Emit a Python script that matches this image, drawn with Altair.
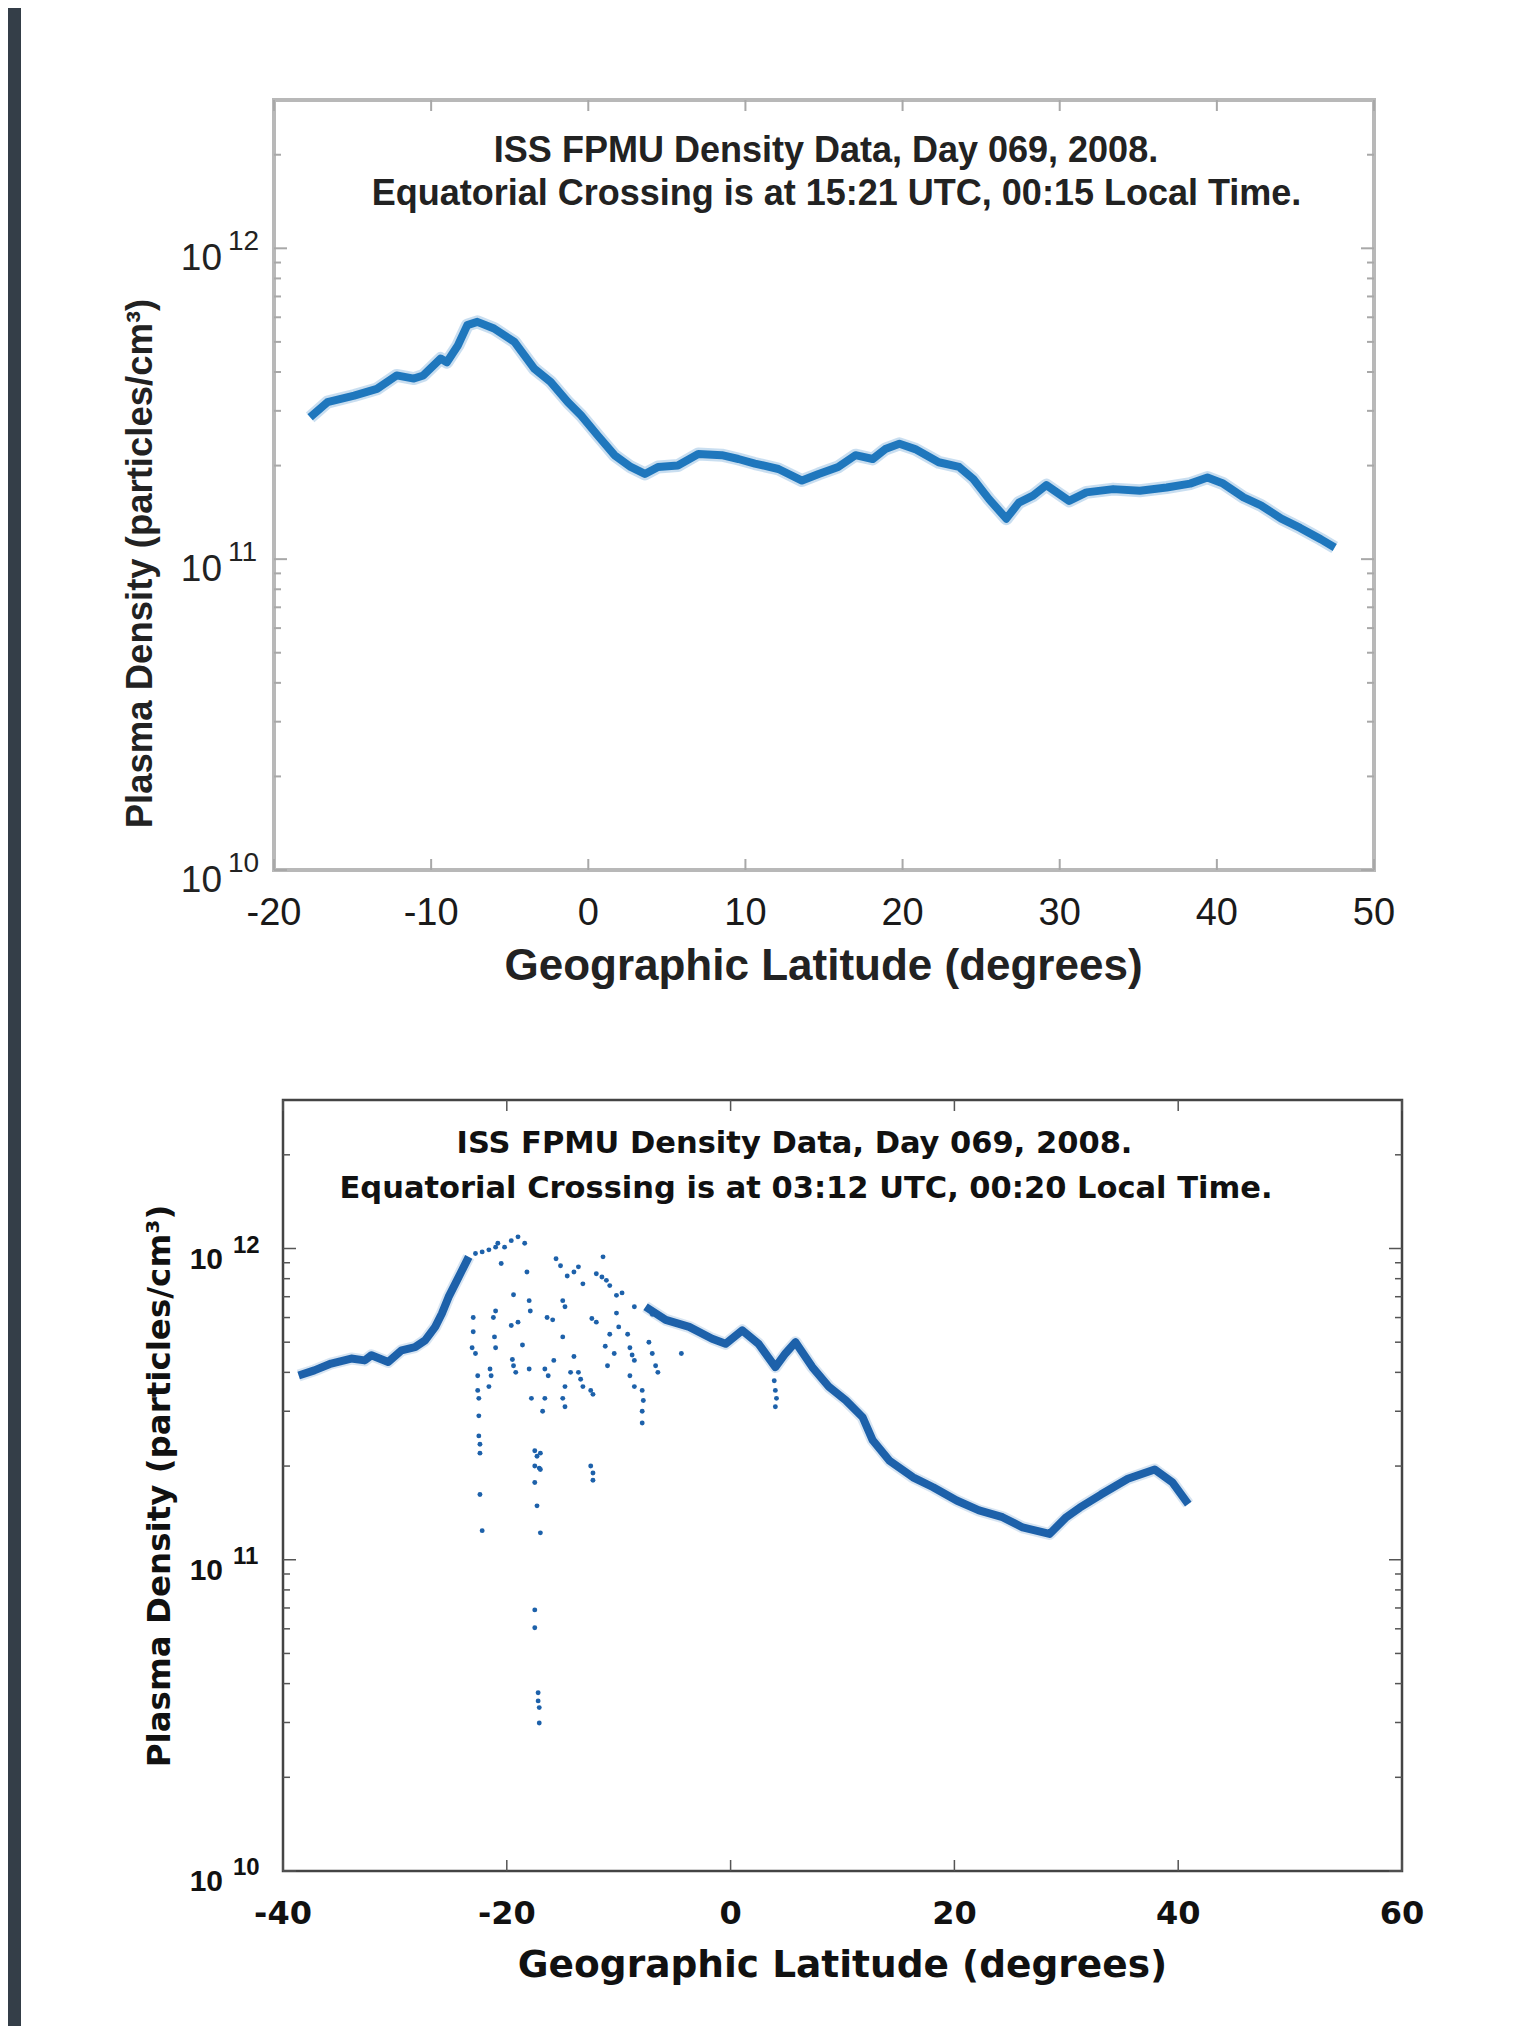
import altair as alt
import pandas as pd

W, H = 1512, 2018

# ---------------- top panel data (Day 069, 15:21 UTC pass) ----------------
top_lat = [-17.7, -16.6, -14.9, -13.45, -12.2, -11.1, -10.5, -9.4, -9.0, -8.3, -7.7, -7.06,
           -6.0, -4.7, -3.44, -2.4, -1.3, -0.46, 0.6, 1.67, 2.7, 3.6, 4.44, 5.7, 7.0, 8.5,
           9.55, 10.6, 12.1, 13.6, 14.66, 15.9, 17.0, 18.1, 18.9, 19.8, 20.8, 22.3, 23.6,
           24.5, 25.5, 26.6, 27.4, 28.3, 29.15, 30.6, 31.7, 33.4, 35.1, 36.8, 38.3, 39.4,
           40.4, 41.7, 42.8, 44.1, 45.3, 46.6, 47.5]
top_den = [2.86e11, 3.2e11, 3.36e11, 3.53e11, 3.9e11, 3.81e11, 3.9e11, 4.42e11, 4.3e11, 4.87e11,
           5.66e11, 5.8e11, 5.52e11, 5.0e11, 4.1e11, 3.72e11, 3.2e11, 2.9e11, 2.5e11, 2.16e11,
           1.98e11, 1.88e11, 1.98e11, 2.0e11, 2.18e11, 2.16e11, 2.1e11, 2.03e11, 1.95e11, 1.79e11,
           1.88e11, 1.98e11, 2.16e11, 2.1e11, 2.26e11, 2.35e11, 2.26e11, 2.05e11, 1.98e11, 1.81e11,
           1.56e11, 1.35e11, 1.52e11, 1.6e11, 1.73e11, 1.54e11, 1.64e11, 1.68e11, 1.66e11, 1.70e11,
           1.75e11, 1.83e11, 1.75e11, 1.58e11, 1.49e11, 1.35e11, 1.26e11, 1.16e11, 1.09e11]
top_xticks = [-20, -10, 0, 10, 20, 30, 40, 50]
top_xlabels = ["-20", "-10", "0", "10", "20", "30", "40", "50"]

# ---------------- bottom panel data (Day 069, 03:12 UTC pass) ----------------
b1_lat = [-38.6, -37.2, -35.7, -33.9, -32.7, -32.1, -30.6, -29.4, -28.2, -27.3, -26.4, -25.8,
          -25.2, -24.6, -24.0, -23.4]
b1_den = [3.91e11, 4.06e11, 4.27e11, 4.43e11, 4.37e11, 4.54e11, 4.32e11, 4.71e11, 4.82e11,
          5.07e11, 5.6e11, 6.18e11, 6.99e11, 7.71e11, 8.51e11, 9.4e11]
b2_lat = [-7.6, -5.8, -3.7, -1.65, -0.45, 1.04, 2.5, 4.0, 4.9, 5.8, 7.3, 8.8, 10.3, 11.8, 12.7,
          14.2, 16.3, 18.1, 20.2, 22.2, 24.3, 26.1, 28.5, 30.0, 31.2, 33.1, 35.5, 37.9, 39.5, 40.9]
b2_den = [6.5e11, 5.9e11, 5.6e11, 5.13e11, 4.94e11, 5.46e11, 4.94e11, 4.16e11, 4.6e11, 5.0e11,
          4.16e11, 3.59e11, 3.25e11, 2.87e11, 2.42e11, 2.08e11, 1.84e11, 1.71e11, 1.55e11, 1.44e11,
          1.37e11, 1.27e11, 1.21e11, 1.37e11, 1.47e11, 1.62e11, 1.82e11, 1.95e11, 1.77e11, 1.51e11]
dot_lat = [-22.8, -22.2, -21.6, -21.0, -20.8, -20.2, -19.6, -19.0, -18.4, -20.5, -18.2,
           -15.6, -14.6, -13.6, -13.2, -11.4, -11.5, -11.1, -10.2, -9.7, -8.6, -7.0, -12.0, -10.8,
           -15.2, -14.0,
           -23.0, -23.0, -23.1, -22.8, -22.6, -22.6, -22.5, -22.5, -22.5, -22.4, -22.4, -22.4, -22.2,
           -21.2, -21.0, -21.1, -21.0, -21.5, -21.4, -21.6,
           -19.6, -19.0, -19.4, -19.5, -19.4, -19.2, -18.6,
           -18.0, -17.9, -18.0, -17.8, -17.5, -17.3, -17.0, -17.5, -17.1, -17.0, -17.5, -17.3, -17.0,
           -16.8, -16.6, -16.6, -16.3, -16.4, -15.9, -15.8,
           -15.0, -14.8, -15.0, -14.8, -15.0, -14.8,
           -14.3, -13.6, -13.4, -13.2, -14.0,
           -12.4, -12.0, -12.5, -12.3, -12.5, -12.3, -12.3,
           -11.2, -10.8, -11.0, -10.4, -10.2, -10.0,
           -9.2, -9.0, -8.8, -8.6, -9.0, -8.6,
           -7.9, -7.8, -7.9, -7.9, -7.3, -7.0, -6.7, -6.5, -4.4,
           3.9, 4.0, 4.1, 4.0,
           -17.5, -17.5, -17.2, -17.2, -17.1, -17.1]
dot_den = [9.64e11, 9.75e11, 9.9e11, 1.01e12, 1.04e12, 1.01e12, 1.06e12, 1.09e12, 1.04e12, 8.95e11, 8.4e11,
           9.27e11, 8.16e11, 8.73e11, 7.7e11, 9.4e11, 8.1e11, 7.9e11, 7.07e11, 7.2e11, 6.5e11, 6.15e11, 8.3e11, 7.6e11,
           8.8e11, 8.4e11,
           6.0e11, 5.4e11, 4.8e11, 4.6e11, 3.9e11, 3.5e11, 3.3e11, 2.9e11, 2.5e11, 2.35e11, 2.2e11, 1.62e11, 1.24e11,
           6.0e11, 6.3e11, 5.2e11, 4.8e11, 4.1e11, 3.9e11, 3.6e11,
           5.66e11, 5.8e11, 7.1e11, 4.4e11, 4.2e11, 4.0e11, 4.9e11,
           6.8e11, 6.3e11, 4.1e11, 3.3e11, 2.24e11, 2.15e11, 2.2e11, 2.0e11, 1.97e11, 1.95e11, 1.77e11, 1.49e11, 1.22e11,
           3.0e11, 3.3e11, 4.1e11, 3.9e11, 6.0e11, 5.9e11, 4.37e11,
           6.8e11, 6.5e11, 5.2e11, 3.6e11, 3.3e11, 3.1e11,
           4.0e11, 4.0e11, 3.8e11, 3.6e11, 4.5e11,
           5.96e11, 5.8e11, 3.5e11, 3.4e11, 2.0e11, 1.9e11, 1.8e11,
           4.85e11, 5.3e11, 4.2e11, 4.6e11, 6.2e11, 5.6e11,
           5.3e11, 4.8e11, 4.55e11, 4.37e11, 3.9e11, 3.6e11,
           3.5e11, 3.25e11, 3.0e11, 2.75e11, 5.0e11, 4.6e11, 4.2e11, 4.0e11, 4.6e11,
           3.76e11, 3.5e11, 3.3e11, 3.1e11,
           6.9e10, 6.05e10, 3.74e10, 3.52e10, 3.35e10, 2.99e10]
bot_xticks = [-40, -20, 0, 20, 40, 60]
bot_xlabels = ["-40", "-20", "0", "20", "40", "60"]

# shared y ticks
y_major = [1e10, 1e11, 1e12]
y_exp = ["10", "11", "12"]
y_base = ["10", "10", "10"]
y_minor = [2e10, 3e10, 4e10, 5e10, 6e10, 7e10, 8e10, 9e10,
           2e11, 3e11, 4e11, 5e11, 6e11, 7e11, 8e11, 9e11, 2e12]

TITLE1 = "ISS FPMU Density Data, Day 069, 2008."
TOP_TITLE2 = "Equatorial Crossing is at 15:21 UTC, 00:15 Local Time."
BOT_TITLE2 = "Equatorial Crossing is at 03:12 UTC, 00:20 Local Time."
XTITLE = "Geographic Latitude (degrees)"
YTITLE = "Plasma Density (particles/cm³)"

one = pd.DataFrame({"k": [0]})


def panel(xs, ys, xdom, ydom, x0, x1, y0, y1, frame_color, frame_w, tick_color, tick_w,
          xticks, xlabels):
    frame_df = pd.DataFrame({"a": [xdom[0]], "b": [xdom[1]], "c": [ydom[0]], "d": [ydom[1]]})
    X = lambda f: alt.X(f, type="quantitative", scale=xs, axis=None)
    Y = lambda f: alt.Y(f, type="quantitative", scale=ys, axis=None)
    layers = []
    layers.append(alt.Chart(frame_df).mark_rect(fillOpacity=0, stroke=frame_color, strokeWidth=frame_w)
                  .encode(x=X("a"), x2="b", y=Y("c"), y2="d"))
    xt = pd.DataFrame({"v": xticks, "lab": xlabels})
    for ya, yb in [(y0, y0 - 11), (y1, y1 + 11)]:
        layers.append(alt.Chart(xt).mark_rule(color=tick_color, strokeWidth=tick_w)
                      .encode(x=X("v"), y=alt.value(ya), y2=alt.value(yb)))
    ymj = pd.DataFrame({"v": y_major, "base": y_base, "exp": y_exp})
    ymn = pd.DataFrame({"v": y_minor})
    for d, ln in [(ymj, 13), (ymn, 7)]:
        layers.append(alt.Chart(d).mark_rule(color=tick_color, strokeWidth=tick_w)
                      .encode(y=Y("v"), x=alt.value(x0), x2=alt.value(x0 + ln)))
        layers.append(alt.Chart(d).mark_rule(color=tick_color, strokeWidth=tick_w)
                      .encode(y=Y("v"), x=alt.value(x1), x2=alt.value(x1 - ln)))
    return layers, X, Y, xt, ymj


# ---------------- top panel ----------------
XT = alt.Scale(domain=[-20, 50], range=[266, 1366], nice=False, zero=False)
YT = alt.Scale(type="log", domain=[1e10, 3e12], range=[862, 92], nice=False)
TF = "Liberation Sans"
TC = "#222222"
tl, X, Y, xt, ymj = panel(XT, YT, [-20, 50], [1e10, 3e12], 266, 1366, 862, 92,
                          "#b8b8b8", 4, "#a8a8a8", 2, top_xticks, top_xlabels)
top_df = pd.DataFrame({"lat": top_lat, "den": top_den})
tl.append(alt.Chart(top_df).mark_line(color="#9cc3e4", strokeWidth=13, opacity=0.55, strokeJoin="round")
          .encode(x=X("lat"), y=Y("den")))
tl.append(alt.Chart(top_df).mark_line(color="#1f77bd", strokeWidth=8, strokeJoin="round")
          .encode(x=X("lat"), y=Y("den")))
tl.append(alt.Chart(ymj).mark_text(align="right", baseline="alphabetic", dy=22, font=TF, fontSize=37, color=TC)
          .encode(y=Y("v"), x=alt.value(214), text="base:N"))
tl.append(alt.Chart(ymj).mark_text(align="left", baseline="alphabetic", dy=2, font=TF, fontSize=28, color=TC)
          .encode(y=Y("v"), x=alt.value(220), text="exp:N"))
tl.append(alt.Chart(xt).mark_text(align="center", baseline="alphabetic", font=TF, fontSize=38,
                                  color="#1a1a1a")
          .encode(x=X("v"), y=alt.value(917), text="lab:N"))
tl.append(alt.Chart(one).mark_text(text=TITLE1, align="center", baseline="alphabetic", font=TF,
                                   fontWeight="bold", fontSize=36, color=TC)
          .encode(x=alt.value(818), y=alt.value(154)))
tl.append(alt.Chart(one).mark_text(text=TOP_TITLE2, align="center", baseline="alphabetic", font=TF,
                                   fontWeight="bold", fontSize=36, color=TC)
          .encode(x=alt.value(828.5), y=alt.value(197)))
tl.append(alt.Chart(one).mark_text(text=XTITLE, align="center", baseline="alphabetic", font=TF,
                                   fontWeight="bold", fontSize=44, color=TC)
          .encode(x=alt.value(815.5), y=alt.value(972)))
tl.append(alt.Chart(one).mark_text(text=YTITLE, angle=270, align="center", baseline="alphabetic", font=TF,
                                   fontWeight="bold", fontSize=36.5, color=TC)
          .encode(x=alt.value(144), y=alt.value(555.5)))
top = alt.layer(*tl)

# ---------------- bottom panel ----------------
XB = alt.Scale(domain=[-40, 60], range=[275, 1394], nice=False, zero=False)
YB = alt.Scale(type="log", domain=[1e10, 3e12], range=[1863, 1092], nice=False)
BF = "DejaVu Sans"
BC = "#111111"
BLUE = "#1d61aa"
bl, X, Y, xt, ymj = panel(XB, YB, [-40, 60], [1e10, 3e12], 275, 1394, 1863, 1092,
                          "#444444", 2.5, "#555555", 1.5, bot_xticks, bot_xlabels)
for la, de in [(b1_lat, b1_den), (b2_lat, b2_den)]:
    d = pd.DataFrame({"lat": la, "den": de})
    bl.append(alt.Chart(d).mark_line(color="#a9c6e3", strokeWidth=12, opacity=0.45, strokeJoin="round")
              .encode(x=X("lat"), y=Y("den")))
    bl.append(alt.Chart(d).mark_line(color=BLUE, strokeWidth=8, strokeJoin="round")
              .encode(x=X("lat"), y=Y("den")))
dots = pd.DataFrame({"lat": dot_lat, "den": dot_den})
bl.append(alt.Chart(dots).mark_circle(color=BLUE, size=24, opacity=1)
          .encode(x=X("lat"), y=Y("den")))
bl.append(alt.Chart(ymj).mark_text(align="right", baseline="alphabetic", dy=20, font="Liberation Sans",
                                   fontWeight="bold", fontSize=30, color=BC)
          .encode(y=Y("v"), x=alt.value(215), text="base:N"))
bl.append(alt.Chart(ymj).mark_text(align="left", baseline="alphabetic", dy=4, font="Liberation Sans",
                                   fontWeight="bold", fontSize=24, color=BC)
          .encode(y=Y("v"), x=alt.value(225), text="exp:N"))
bl.append(alt.Chart(xt).mark_text(align="center", baseline="alphabetic", font=BF, fontWeight="bold",
                                  fontSize=32, color=BC)
          .encode(x=X("v"), y=alt.value(1916), text="lab:N"))
bl.append(alt.Chart(one).mark_text(text=TITLE1, align="center", baseline="alphabetic", font=BF,
                                   fontWeight="bold", fontSize=30.5, color=BC)
          .encode(x=alt.value(786.5), y=alt.value(1144.7)))
bl.append(alt.Chart(one).mark_text(text=BOT_TITLE2, align="center", baseline="alphabetic", font=BF,
                                   fontWeight="bold", fontSize=30.5, color=BC)
          .encode(x=alt.value(798), y=alt.value(1190.3)))
bl.append(alt.Chart(one).mark_text(text=XTITLE, align="center", baseline="alphabetic", font=BF,
                                   fontWeight="bold", fontSize=37.5, color=BC)
          .encode(x=alt.value(834.5), y=alt.value(1969)))
bl.append(alt.Chart(one).mark_text(text=YTITLE, angle=270, align="center", baseline="alphabetic", font=BF,
                                   fontWeight="bold", fontSize=32.5, color=BC)
          .encode(x=alt.value(162), y=alt.value(1478)))
bottom = alt.layer(*bl)

band = alt.Chart(one).mark_rect(color="#343e48").encode(
    x=alt.value(0), x2=alt.value(13), y=alt.value(0), y2=alt.value(H))

chart = alt.layer(band, top, bottom).resolve_scale(
    x="independent", y="independent"
).properties(
    width=W, height=H, autosize=alt.AutoSizeParams(type="none"), padding=0, background="white"
).configure_view(strokeWidth=0)

chart.save("out.html", embed_options={"renderer": "svg", "actions": False})
